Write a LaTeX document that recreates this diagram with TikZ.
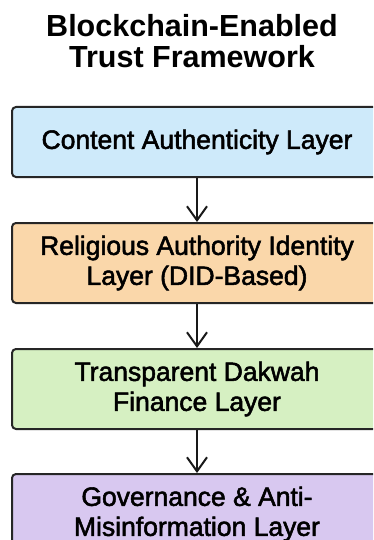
\documentclass[tikz,border=0pt]{standalone}
\usepackage{fontspec}
\setmainfont{Liberation Sans}
\newfontfamily\layerfont[FakeBold=2]{Liberation Sans}
\usetikzlibrary{positioning,arrows.meta}

\definecolor{layerblue}{RGB}{206,234,250}
\definecolor{layerorange}{RGB}{250,215,170}
\definecolor{layergreen}{RGB}{214,240,194}
\definecolor{layerpurple}{RGB}{216,200,240}

\tikzset{
  layer/.style={draw=black!85, line width=2pt, rectangle, rounded corners=4pt,
    minimum width=370pt, minimum height=80pt, align=center,
    font=\layerfont\fontsize{26.5}{30}\selectfont},
  flow/.style={line width=2pt, draw=black!90, -{Straight Barb[length=14pt,width=20pt]}}
}

\begin{document}
\begin{tikzpicture}[x=1pt, y=1pt]
\clip (0,0) rectangle (373,-540);
\fill[white] (0,0) rectangle (373,-540);

\node[align=center, font=\bfseries\fontsize{30.5}{31}\selectfont] (title) at (192,-41) {Blockchain-Enabled\\Trust Framework};

\node[layer, fill=layerblue, minimum height=70pt] (content) at (197,-142) {Content Authenticity Layer};
\node[layer, fill=layerorange, below=44pt of content] (identity) {Religious Authority Identity\\Layer (DID-Based)};
\node[layer, fill=layergreen, below=44pt of identity] (finance) {Transparent Dakwah\\Finance Layer};
\node[layer, fill=layerpurple, below=43pt of finance] (governance) {Governance \& Anti-\\Misinformation Layer};

\draw[flow] (content) -- (identity);
\draw[flow] (identity) -- (finance);
\draw[flow] (finance) -- (governance);
\end{tikzpicture}
\end{document}
